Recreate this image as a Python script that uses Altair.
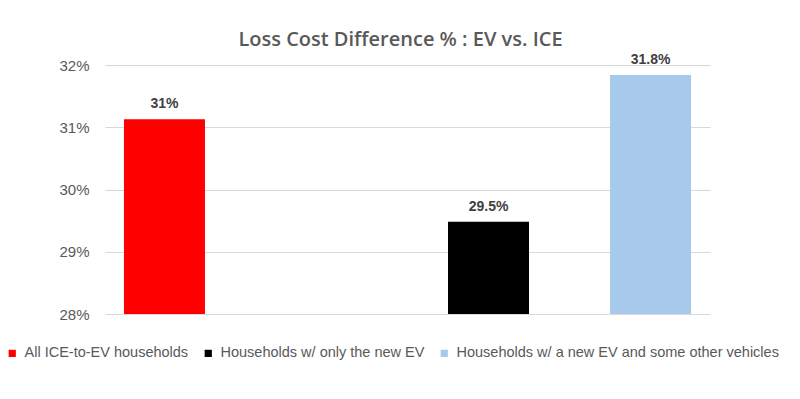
import altair as alt
import pandas as pd

series = ["All ICE-to-EV households", "Households w/ only the new EV",
          "Households w/ a new EV and some other vehicles"]
values = [31.13, 29.48, 31.84]
labels = ["31%", "29.5%", "31.8%"]
colors = ["#FF0000", "#000000", "#A7CAEC"]
slots = ["All ICE-to-EV households", "(empty)", "Households w/ only the new EV",
         "Households w/ a new EV and some other vehicles"]
y_ticks = [28, 29, 30, 31, 32]

df = pd.DataFrame({"series": series, "value": values, "label": labels})

xenc = alt.X("series:N", scale=alt.Scale(domain=slots, paddingInner=0.5, paddingOuter=0.117), axis=None)

base = alt.Chart(df)

bars = base.mark_bar().encode(
    x=xenc,
    y=alt.Y("value:Q", scale=alt.Scale(domain=[28, 32], zero=False, nice=False),
            axis=alt.Axis(values=y_ticks, labelExpr="datum.value + '%'", title=None,
                          ticks=False, domain=False, gridColor="#D9D9D9", gridWidth=1.2,
                          labelColor="#595959", labelFontSize=15, labelPadding=16,
                          labelFont="Liberation Sans")),
    y2=alt.datum(28),
    color=alt.Color("series:N", scale=alt.Scale(domain=series, range=colors),
                    legend=alt.Legend(title=None, orient="none", legendX=-100, legendY=281,
                                      direction="horizontal", symbolType="square",
                                      symbolSize=52, symbolStrokeWidth=0,
                                      labelFontSize=14.5, labelColor="#595959", labelLimit=0,
                                      labelFont="Liberation Sans", columnPadding=12,
                                      labelOffset=5)),
)

text = base.mark_text(baseline="alphabetic", dy=-11, fontSize=14, fontWeight="bold",
                      color="#404040", font="Liberation Sans").encode(
    x=xenc, y="value:Q", text="label:N")

chart = (bars + text).properties(
    width=605, height=249,
    title=alt.TitleParams("Loss Cost Difference % : EV vs. ICE", fontSize=20,
                          font="Open Sans", fontWeight=600, color="#595959",
                          anchor="middle", dx=-7, offset=3),
    autosize=alt.AutoSizeParams(type="none"),
    padding={"left": 97, "top": 57, "right": 80, "bottom": 70},
).configure_view(stroke=None)

chart.save("out.html", embed_options={"renderer": "svg", "actions": False})
